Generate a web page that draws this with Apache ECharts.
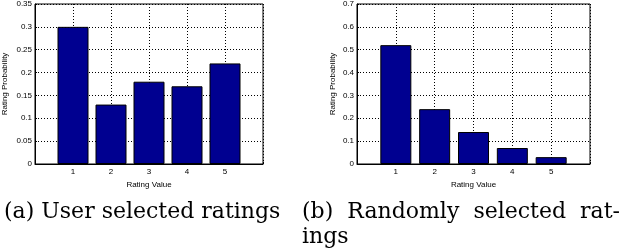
<!DOCTYPE html>
<html>
<head>
<meta charset="utf-8">
<script src="https://cdn.jsdelivr.net/npm/echarts@6/dist/echarts.min.js"></script>
<style>
html,body{margin:0;padding:0;background:#fff;}
#chart{width:626px;height:252px;}
</style>
</head>
<body>
<div id="chart"></div>
<script>
// ---- data ----
const ratingValues = [1, 2, 3, 4, 5];
const userSelected = [0.30, 0.13, 0.18, 0.17, 0.22];
const randomSelected = [0.52, 0.24, 0.14, 0.07, 0.03];
const xTicks = [0, 1, 2, 3, 4, 5, 6];
const yTicksLeft = [0, 0.05, 0.1, 0.15, 0.2, 0.25, 0.3, 0.35];
const yTicksRight = [0, 0.1, 0.2, 0.3, 0.4, 0.5, 0.6, 0.7];
const captionA = '(a) User selected ratings';
const captionB1 = ['(b)', 'Randomly', 'selected', 'rat-'];
const captionB2 = 'ings';
const xTitle = 'Rating Value';
const yTitle = 'Rating Probability';

const chart = echarts.init(document.getElementById('chart'), null, {renderer: 'canvas'});
const sans = 'Liberation Sans, Arial, sans-serif';
const serifFont = '22px DejaVu Serif, serif';
const dotted = {color: '#000', width: 1, type: [1, 2]};

function fmtY(v) { return String(+v.toFixed(2)); }

function xAxis(gridIndex) {
  return {
    type: 'value', gridIndex: gridIndex, min: xTicks[0], max: xTicks[xTicks.length - 1], interval: 1,
    name: xTitle, nameLocation: 'middle', nameGap: 15,
    nameTextStyle: {fontFamily: sans, fontSize: 8, color: '#000'},
    axisLine: {show: true, lineStyle: {color: '#000', width: 1}},
    axisTick: {show: true, inside: true, length: 2, lineStyle: {color: '#000'}},
    axisLabel: {margin: 4, fontFamily: sans, fontSize: 8, color: '#000',
      formatter: v => (ratingValues.indexOf(v) >= 0 ? String(v) : '')},
    splitLine: {show: true, lineStyle: dotted}
  };
}
function yAxis(gridIndex, ticks, gap) {
  return {
    type: 'value', gridIndex: gridIndex, min: ticks[0], max: ticks[ticks.length - 1],
    interval: ticks[1] - ticks[0],
    name: yTitle, nameLocation: 'middle', nameGap: gap, nameRotate: 90,
    nameTextStyle: {fontFamily: sans, fontSize: 8, color: '#000'},
    axisLine: {show: true, lineStyle: {color: '#000', width: 1}},
    axisTick: {show: true, inside: true, length: 2, lineStyle: {color: '#000'}},
    axisLabel: {margin: 3, fontFamily: sans, fontSize: 8, color: '#000', formatter: fmtY},
    splitLine: {show: true, lineStyle: dotted}
  };
}
function barSeries(idx, vals) {
  return {
    type: 'bar', xAxisIndex: idx, yAxisIndex: idx, barWidth: 31,
    data: ratingValues.map((c, i) => [c, vals[i]]),
    itemStyle: {color: '#000090', borderColor: '#000', borderWidth: 1},
    silent: true, animation: false
  };
}
function textEl(t, x, y) {
  return {type: 'text', x: x, y: y,
    style: {text: t, font: serifFont, fill: '#000', textAlign: 'left', textVerticalAlign: 'bottom'}};
}
// justified line: spread words between x0 and x1
function justified(list, x0, x1, y) {
  const ctx = document.createElement('canvas').getContext('2d');
  ctx.font = serifFont;
  const ws = list.map(w => ctx.measureText(w).width);
  const total = ws.reduce((a, b) => a + b, 0);
  const gap = (x1 - x0 - total) / (list.length - 1);
  let x = x0;
  return list.map((w, i) => { const el = textEl(w, x, y); x += ws[i] + gap; return el; });
}

const option = {
  animation: false,
  backgroundColor: '#fff',
  grid: [
    {left: 31, top: 3, width: 232, height: 161, show: true, borderColor: '#000', borderWidth: 1, backgroundColor: 'transparent'},
    {left: 357, top: 3, width: 233, height: 161, show: true, borderColor: '#000', borderWidth: 1, backgroundColor: 'transparent'}
  ],
  xAxis: [xAxis(0), xAxis(1)],
  yAxis: [yAxis(0, yTicksLeft, 26), yAxis(1, yTicksRight, 20)],
  series: [barSeries(0, userSelected), barSeries(1, randomSelected)],
  graphic: [].concat(
    [textEl(captionA, 4, 223)],
    justified(captionB1, 302, 620, 223),
    [textEl(captionB2, 302, 248)]
  )
};
chart.setOption(option);
</script>
</body>
</html>
